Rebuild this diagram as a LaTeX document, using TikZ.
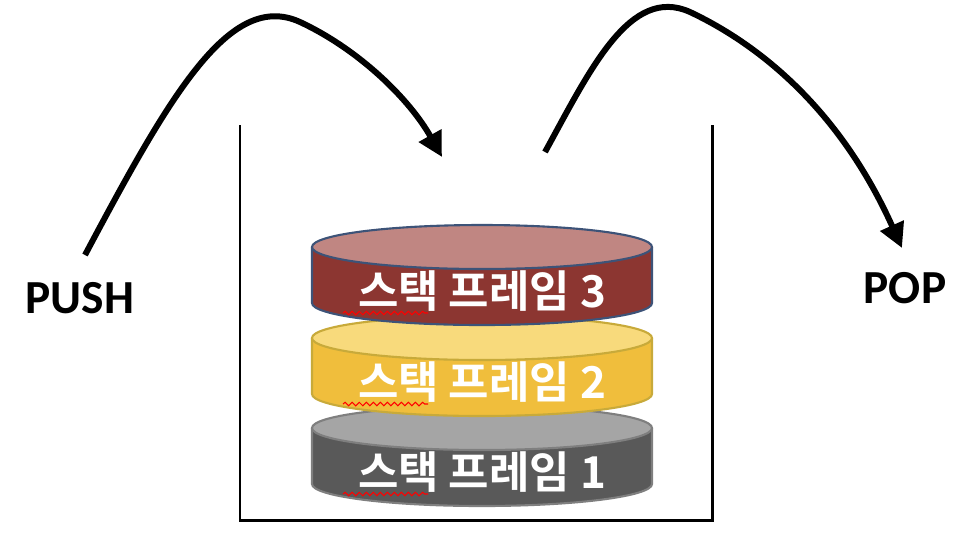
\documentclass[tikz,border=0pt]{standalone}
\usepackage{fontspec}
\setmainfont{Carlito}
\newfontfamily\krfont{Noto Sans CJK KR}[BoldFont={Noto Sans CJK KR Bold}]
\usetikzlibrary{arrows.meta,decorations.pathmorphing}
\definecolor{rtop}{HTML}{C08682}\definecolor{rbody}{HTML}{8C3631}\definecolor{rline}{HTML}{3D5378}
\definecolor{ytop}{HTML}{F8DA7C}\definecolor{ybody}{HTML}{F0BE3C}\definecolor{yline}{HTML}{C8AA3A}
\definecolor{gtop}{HTML}{A5A5A5}\definecolor{gbody}{HTML}{595959}\definecolor{gline}{HTML}{7F7F7F}
\tikzset{
 flow/.style={line width=6pt*0.567,-{Triangle[length=14pt,width=14pt]}},
 lbl/.style={font=\bfseries\fontsize{27}{30}\selectfont},
 disktext/.style={text=white,font=\krfont\bfseries\fontsize{25}{30}\selectfont},
}
\newcommand\mydisk[6]{% y-top, top colour, body colour, line colour, label, name
 \fill[#3] (312,#1) -- (312,#1+56) arc[start angle=180,end angle=0,x radius=170,y radius=22] -- (652,#1) -- cycle;
 \draw[#4,line width=1.2pt] (312,#1) -- (312,#1+56) arc[start angle=180,end angle=0,x radius=170,y radius=22] -- (652,#1);
 \filldraw[fill=#2,draw=#4,line width=1.2pt] (482,#1) ellipse[x radius=170,y radius=22];
 \node[disktext] (#6) at (482,#1+44) {#5};
 \draw[red,line width=0.6pt,decorate,decoration={snake,amplitude=1pt,segment length=4pt}] (343,#1+66) -- (428,#1+66);
}
\begin{document}
\begin{tikzpicture}[x=0.02cm,y=-0.02cm]
\useasboundingbox (0,0) rectangle (976,552);
\draw[line width=3pt*0.567] (240,125) -- (240,520) -- (712,520) -- (712,125);
\mydisk{428}{gtop}{gbody}{gline}{스택 프레임 1}{d1}
\mydisk{338}{ytop}{ybody}{yline}{스택 프레임 2}{d2}
\mydisk{247}{rtop}{rbody}{rline}{스택 프레임 3}{d3}
\node[lbl] (push) at (80,298) {PUSH};
\node[lbl] (pop) at (905,288) {POP};
\coordinate (ps) at (85,255);
\coordinate (pe) at (442,157);
\coordinate (os) at (545,152);
\coordinate (oe) at (902,248);
\draw[flow] (ps) .. controls (170,95) and (230,-10) .. (300,22) .. controls (360,50) and (410,100) .. (pe);
\draw[flow] (os) .. controls (590,70) and (630,-15) .. (690,12) .. controls (760,45) and (840,110) .. (oe);
\end{tikzpicture}
\end{document}
